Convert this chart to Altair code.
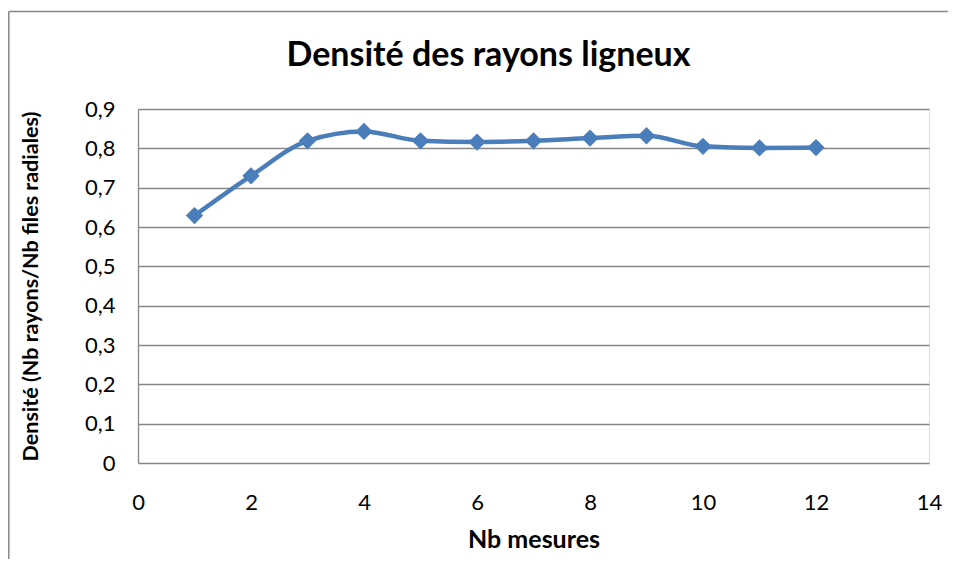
import altair as alt
import pandas as pd

nb_mesures = [1, 2, 3, 4, 5, 6, 7, 8, 9, 10, 11, 12]
densite = [0.629, 0.730, 0.819, 0.843, 0.819, 0.816, 0.819, 0.826, 0.832, 0.805, 0.801, 0.802]
y_ticks = [0, 0.1, 0.2, 0.3, 0.4, 0.5, 0.6, 0.7, 0.8, 0.9]
x_ticks = [0, 2, 4, 6, 8, 10, 12, 14]

df = pd.DataFrame({"x": nb_mesures, "y": densite})

FONT = "Lato"
BLUE = "#4A7EBB"
GRID = "#878787"

W, H = 791, 354
PAD_L, PAD_T, PAD_R, PAD_B = 130, 101, 19, 96

x_enc = alt.X("x:Q", scale=alt.Scale(domain=[0, 14], nice=False, zero=False),
              axis=alt.Axis(values=x_ticks, title="Nb mesures", grid=False, domain=False,
                            ticks=False, labelPadding=29, labelFontSize=22, labelFont=FONT,
                            labelColor="#000", labelFlush=False, labelOverlap=False,
                            format="d",
                            titleFont=FONT, titleFontSize=25,
                            titleFontWeight="bold", titlePadding=14, titleColor="#000"))
y_enc = alt.Y("y:Q", scale=alt.Scale(domain=[0, 0.9], nice=False, zero=False),
              axis=alt.Axis(values=y_ticks, title="Densité (Nb rayons/Nb files radiales)",
                            grid=True, gridColor=GRID, gridWidth=1.3,
                            domain=True, domainColor=GRID, domainWidth=1.3,
                            ticks=False, labelPadding=23, labelFontSize=22, labelFont=FONT,
                            labelColor="#000", labelOverlap=False, labelFlush=False,
                            labelExpr="datum.value == 0 ? '0' : replace(format(datum.value, '.1f'), '.', ',')",
                            titleFont=FONT, titleFontSize=21.5, titleFontWeight="bold",
                            titlePadding=42, titleColor="#000"))

base = alt.Chart(df).encode(x=x_enc, y=y_enc)
line = base.mark_line(color=BLUE, strokeWidth=4.5, interpolate="monotone")
pts = base.mark_point(shape="diamond", filled=True, color=BLUE, size=300, opacity=1)

dummy = pd.DataFrame({"a": [0]})
frame_left = alt.Chart(dummy).mark_rule(color=GRID, strokeWidth=1.5, clip=False).encode(
    x=alt.value(-PAD_L + 0.8), y=alt.value(-PAD_T + 3.5), y2=alt.value(H + PAD_B))
frame_top = alt.Chart(dummy).mark_rule(color=GRID, strokeWidth=1.5, clip=False).encode(
    y=alt.value(-PAD_T + 3.5), x=alt.value(-PAD_L + 0.8), x2=alt.value(W + PAD_R))

chart = alt.layer(frame_left, frame_top, line, pts).properties(
    width=W, height=H,
    title=alt.TitleParams("Densité des rayons ligneux", font=FONT, fontSize=34, fontWeight="bold",
                          color="#000", anchor="middle", frame="group", dx=-45, offset=-62),
    autosize=alt.AutoSizeParams(type="none"),
    padding={"left": PAD_L, "top": PAD_T, "right": PAD_R, "bottom": PAD_B},
).configure_view(stroke=None).configure(background="white")

chart.save("out.html", embed_options={"renderer": "svg", "actions": False})
